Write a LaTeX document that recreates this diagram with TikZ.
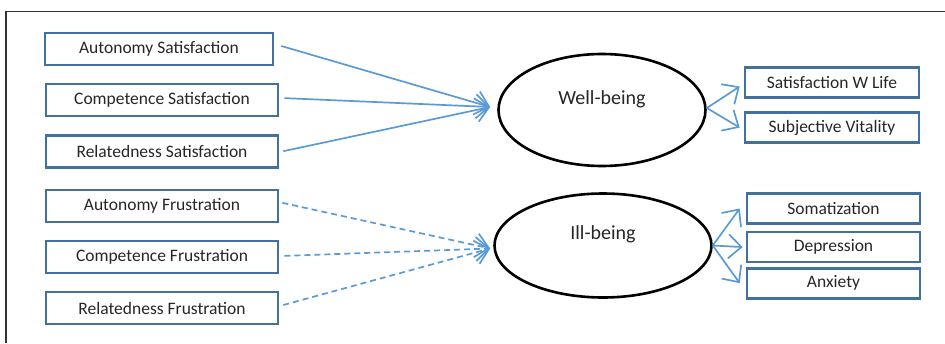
\documentclass[tikz,border=0pt]{standalone}
\usepackage{fontspec}
\setmainfont{Carlito}
\definecolor{steelblue}{RGB}{65, 113, 156}
\definecolor{skyblue}{RGB}{91, 155, 213}
\definecolor{inkgray}{RGB}{38, 38, 38}
\usetikzlibrary{shapes,arrows.meta,positioning}

\begin{document}
\begin{tikzpicture}[x=1pt, y=-1pt]
    \tikzstyle{box} = [draw=steelblue, line width=2.6pt, rectangle, minimum height=32pt, minimum width=232pt, inner sep=0pt, text=inkgray, font=\fontsize{17.5}{20}\selectfont]
    \tikzstyle{outbox} = [box, minimum width=174pt, minimum height=30pt]
    \tikzstyle{factor} = [draw, ellipse, line width=2.6pt, inner sep=0pt, text=inkgray, font=\fontsize{20}{24}\selectfont]
    \tikzstyle{link} = [draw=skyblue, line width=1.7pt, -{Straight Barb[length=13pt, width=24pt, line width=1.7pt]}]
    \tikzstyle{dashlink} = [link, dash pattern=on 6pt off 4pt]

    \useasboundingbox (0,0) rectangle (945,343);

    % frame
    \coordinate (fbl) at (6,343);
    \coordinate (ftl) at (6,11.5);
    \coordinate (ftr) at (945,11.5);
    \draw [line width=1.8pt, black!80] (fbl) -- (ftl) -- (ftr);

    % need satisfaction / frustration
    \node [box, minimum width=228pt] (as) at (159,49) {Autonomy Satisfaction};
    \node [box, below=16.5pt of as.south east, anchor=north east, xshift=5pt] (cs) {Competence Satisfaction};
    \node [box, below=16.5pt of cs] (rs) {Relatedness Satisfaction};
    \node [box, below=20pt of rs] (af) {Autonomy Frustration};
    \node [box, below=16.5pt of af] (cf) {Competence Frustration};
    \node [box, below=16.5pt of cf] (rf) {Relatedness Frustration};

    % latent outcomes
    \node [factor, minimum width=207pt, minimum height=112pt] (wb) at (602,110) {\raisebox{11pt}[\height][\depth]{Well-being}};
    \node [factor, minimum width=217pt, minimum height=104pt] (ib) at (603,245.5) {\raisebox{11pt}[\height][\depth]{Ill-being}};

    % indicators
    \node [outbox] (swl) at (832,82.5) {Satisfaction W Life};
    \node [outbox, below=12.5pt of swl] (sv) {Subjective Vitality};
    \node [outbox, minimum width=173pt] (som) at (833.5,208.5) {Somatization};
    \node [outbox, minimum width=173pt, below=6pt of som] (dep) {Depression};
    \node [outbox, minimum width=173pt, below=3.5pt of dep] (anx) {Anxiety};

    \path [link] ([xshift=7pt, yshift=3pt]as.east) -- ([xshift=-7pt, yshift=3pt]wb.west);
    \path [link] ([xshift=5pt, yshift=2pt]cs.east) -- ([xshift=-7pt, yshift=3pt]wb.west);
    \path [link] ([xshift=4pt]rs.east) -- ([xshift=-7pt, yshift=3pt]wb.west);

    % frustration paths
    \path [dashlink] ([xshift=3pt, yshift=3pt]af.east) -- ([xshift=-3pt, yshift=-3pt]ib.west);
    \path [dashlink] ([xshift=5pt, yshift=1pt]cf.east) -- ([xshift=-3pt, yshift=-3pt]ib.west);
    \path [dashlink] ([xshift=4pt, yshift=3pt]rf.east) -- ([xshift=-3pt, yshift=-3pt]ib.west);

    \path [link] ([yshift=2pt]wb.east) -- ([xshift=-4pt, yshift=-4pt]swl.west);
    \path [link] ([yshift=2pt]wb.east) -- ([xshift=-4pt]sv.west);
    \path [link] (ib.east) -- ([xshift=-6pt]som.west);
    \path [link] (ib.east) -- ([xshift=-3pt]dep.west);
    \path [link] (ib.east) -- ([xshift=-6pt]anx.west);
\end{tikzpicture}
\end{document}
